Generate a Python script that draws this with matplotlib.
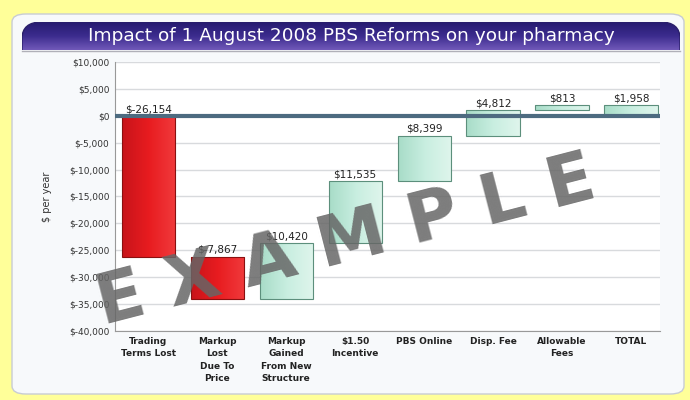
import matplotlib
matplotlib.use("Agg")
import matplotlib.pyplot as plt
import numpy as np
from matplotlib.patches import FancyBboxPatch
from matplotlib.colors import LinearSegmentedColormap

categories = ["Trading\nTerms Lost", "Markup\nLost\nDue To\nPrice", "Markup\nGained\nFrom New\nStructure",
              "$1.50\nIncentive", "PBS Online", "Disp. Fee", "Allowable\nFees", "TOTAL"]
changes = [-26154, -7867, 10420, 11535, 8399, 4812, 813]
total = 1958
labels = ["$-26,154", "$-7,867", "$10,420", "$11,535", "$8,399", "$4,812", "$813", "$1,958"]
yticks = [10000, 5000, 0, -5000, -10000, -15000, -20000, -25000, -30000, -35000, -40000]
ytick_labels = ["$10,000", "$5,000", "$0", "$-5,000", "$-10,000", "$-15,000", "$-20,000",
                "$-25,000", "$-30,000", "$-35,000", "$-40,000"]

fig = plt.figure(figsize=(6.9, 4.0), dpi=100)
fig.patch.set_facecolor("#ffff99")

# white panel
panel = FancyBboxPatch((12/690, 6/400), 672/690, 380/400, boxstyle="round,pad=0,rounding_size=0.02",
                       transform=fig.transFigure, facecolor="#f7f9fb", edgecolor="#c8ccd4", lw=1.0, zorder=-2)
fig.patches.append(panel)

# title bar with gradient (rounded top corners, square bottom)
tax = fig.add_axes([22/690, 350/400, 658/690, 28/400])
tax.set_zorder(0.5)
tax.set_xlim(0, 1); tax.set_ylim(0, 1)
tax.axis("off")
tb = FancyBboxPatch((0, -1), 1, 2, boxstyle="round,pad=0,rounding_size=0.03", mutation_aspect=20,
                    transform=tax.transData, facecolor="none", edgecolor="#2a1f6a", lw=1.0)
tax.add_patch(tb)
tcmap = LinearSegmentedColormap.from_list("tb", ["#7058b8", "#3c2c8e", "#261b70"])
im = tax.imshow(np.linspace(0, 1, 50).reshape(-1, 1), cmap=tcmap, aspect="auto", extent=(0, 1, 0, 1),
                origin="lower")
im.set_clip_path(tb)
tax.text(0.5, 0.5, "Impact of 1 August 2008 PBS Reforms on your pharmacy", color="white",
         fontsize=13.3, ha="center", va="center", transform=tax.transAxes)
fig.add_artist(plt.Line2D([22/690, 680/690], [349/400, 349/400], transform=fig.transFigure,
                          color="#b0b0b8", lw=1.0))

ax = fig.add_axes([115/690, 69/400, 545/690, 269/400])
ax.set_zorder(1)
ax.set_facecolor("white")

x = np.arange(len(categories))
bottoms = []
heights = []
cum = 0
for c in changes:
    if c < 0:
        bottoms.append(cum + c); heights.append(-c)
    else:
        bottoms.append(cum); heights.append(c)
    cum += c
bottoms.append(0); heights.append(total)

neg = [c < 0 for c in changes] + [False]
edges = ["#8a1010" if n else "#5c8f7c" for n in neg]
bars = ax.bar(x, heights, bottom=bottoms, width=0.77, color="none", edgecolor=edges, linewidth=0.8, zorder=4)

red_cmap = LinearSegmentedColormap.from_list("r", ["#c8141a", "#e81c20", "#f03a3c"])
green_cmap = LinearSegmentedColormap.from_list("g", ["#a8dcc8", "#c8eee0", "#dff5ec"])
grad = np.linspace(0, 1, 64).reshape(1, -1)
for b, n in zip(bars, neg):
    x0, y0 = b.get_x(), b.get_y()
    w, h = b.get_width(), b.get_height()
    gi = ax.imshow(grad, cmap=red_cmap if n else green_cmap, aspect="auto",
                   extent=(x0, x0 + w, y0, y0 + h), zorder=3)
    gi.set_clip_path(b)

for i in range(len(categories)):
    top = bottoms[i] + heights[i]
    ax.text(x[i], top + 300, labels[i], ha="center", va="bottom", fontsize=7.5, color="#222222", zorder=5)

ax.axhline(0, color="#4d6b80", lw=3, zorder=4)
ax.set_ylim(-40000, 10000)
ax.set_xlim(-0.48, 7.42)
ax.set_yticks(yticks)
ax.set_yticklabels(ytick_labels, fontsize=6.5, color="#333333")
ax.set_xticks(x)
ax.set_xticklabels(categories, fontsize=6.5, fontweight="bold", color="#222222", linespacing=1.5)
ax.yaxis.grid(True, color="#d8dadd", lw=1.0, zorder=0)
ax.set_axisbelow(True)
ax.tick_params(axis="both", length=0, pad=4)
for s in ["top", "right"]:
    ax.spines[s].set_visible(False)
ax.spines["left"].set_color("#999999")
ax.spines["bottom"].set_color("#999999")
ax.set_ylabel("$ per year", fontsize=7, color="#333333", labelpad=12)

# watermark
fig.text(346/690, 158/400, "E X A M P L E", fontsize=50, fontweight="bold", color="#666666",
         alpha=0.85, rotation=14.5, ha="center", va="center", zorder=10)

fig.savefig("out.png", dpi=100, facecolor=fig.get_facecolor())
